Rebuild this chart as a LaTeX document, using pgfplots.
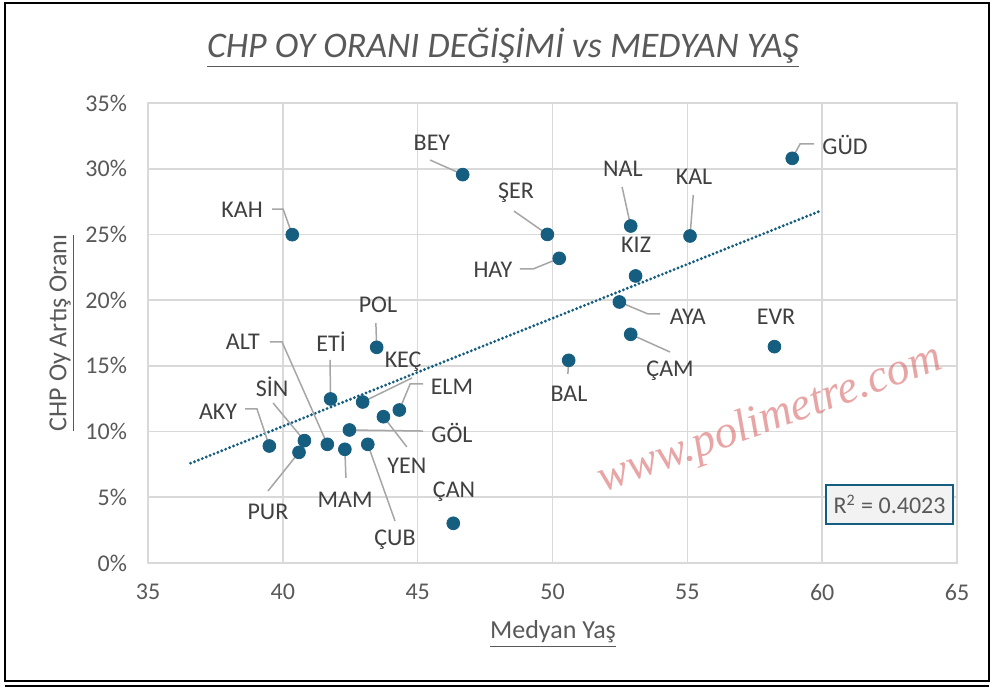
\documentclass[border=0pt]{standalone}
\usepackage{fontspec}
\setmainfont{Carlito}
\newfontfamily\wmfont{Liberation Serif}
\usepackage{pgfplots}
\pgfplotsset{compat=1.18}
\definecolor{pt}{RGB}{22,94,128}
\definecolor{lbl}{RGB}{64,64,64}
\definecolor{tk}{RGB}{89,89,89}
\definecolor{grd}{RGB}{217,217,217}
\definecolor{ldrc}{RGB}{166,166,166}
\definecolor{wm}{RGB}{214,92,92}
\definecolor{boxbg}{RGB}{242,242,242}
\tikzset{
  lab/.style={font=\fontsize{12}{14}\selectfont, text=lbl, inner sep=0pt},
  ldr/.style={draw=ldrc, line width=0.75pt},
}

\begin{document}
\begin{tikzpicture}[x=1pt,y=1pt]
% page and frame
\fill[white] (-74,-62.5) rectangle (423,281.5);
\draw[black, line width=0.9pt] (-71.5,-59) -- (-71.5,280) -- (420.5,280) -- (420.5,-59) -- cycle;
\draw[black, line width=0.9pt] (-71.5,-61.5) -- (420.5,-61.5);

\begin{axis}[
    at={(0,0)}, anchor=south west,
    scale only axis, width=404.5pt, height=230pt,
    xmin=35, xmax=65, ymin=0, ymax=35,
    xtick={35,40,...,65}, ytick={0,5,...,35},
    grid=major, grid style={grd, line width=0.8pt},
    axis line style={grd, line width=0.8pt},
    major tick length=0pt,
    tick label style={font=\fontsize{12}{14}\selectfont, text=tk},
    /pgf/number format/assume math mode=true,
    xticklabel={\pgfmathprintnumber{\tick}},
    yticklabel={\pgfmathprintnumber{\tick}\%},
    xticklabel style={yshift=-7pt},
    yticklabel style={xshift=-7pt},
    clip=false,
  ]
  % trendline
  \addplot[pt, line width=1.6pt, dash pattern=on 0pt off 2.1pt, line cap=round] coordinates {(36.58,7.59) (59.95,26.8)};

  % leader lines
  \draw[ldr] (axis cs:45.46,30.66) -- (axis cs:46.68,29.55);
  \draw[ldr] (axis cs:39.60,26.93) -- (axis cs:40.01,26.93) -- (axis cs:40.35,24.98);
  \draw[ldr] (axis cs:48.57,26.78) -- (axis cs:49.81,25.0);
  \draw[ldr] (axis cs:48.79,22.37) -- (axis cs:49.28,22.37) -- (axis cs:50.25,23.18);
  \draw[ldr] (axis cs:52.58,28.61) -- (axis cs:52.9,25.64);
  \draw[ldr] (axis cs:55.22,28.0) -- (axis cs:55.1,24.88);
  \draw[ldr] (axis cs:59.70,31.88) -- (axis cs:59.18,31.88) -- (axis cs:58.89,30.79);
  \draw[ldr] (axis cs:52.48,19.86) -- (axis cs:53.54,18.95) -- (axis cs:53.99,18.95);
  \draw[ldr] (axis cs:52.9,17.4) -- (axis cs:54.36,16.05);
  \draw[ldr] (axis cs:50.6,15.42) -- (axis cs:50.57,14.38);
  \draw[ldr] (axis cs:43.45,18.26) -- (axis cs:43.48,16.41);
  \draw[ldr] (axis cs:41.75,15.45) -- (axis cs:41.77,12.48);
  \draw[ldr] (axis cs:42.96,12.25) -- (axis cs:44.79,14.08);
  \draw[ldr] (axis cs:44.32,11.64) -- (axis cs:44.72,13.62) -- (axis cs:45.20,13.62);
  \draw[ldr] (axis cs:42.47,10.12) -- (axis cs:45.20,10.04);
  \draw[ldr] (axis cs:43.73,11.13) -- (axis cs:44.60,8.83);
  \draw[ldr] (axis cs:38.60,11.72) -- (axis cs:39.04,11.72) -- (axis cs:39.5,8.9);
  \draw[ldr] (axis cs:39.64,12.17) -- (axis cs:40.8,9.31);
  \draw[ldr] (axis cs:39.52,16.82) -- (axis cs:39.97,16.82) -- (axis cs:41.65,9.03);
  \draw[ldr] (axis cs:39.45,5.48) -- (axis cs:40.6,8.42);
  \draw[ldr] (axis cs:42.34,6.47) -- (axis cs:42.3,8.65);
  \draw[ldr] (axis cs:44.16,3.20) -- (axis cs:43.15,9.03);

  % points
  \addplot[only marks, mark=*, mark size=3.2pt, mark options={draw=pt, fill=pt}] coordinates {
    (46.67,29.55) (40.35,24.98) (49.81,25.0) (50.25,23.18) (52.9,25.64)
    (55.1,24.88) (58.89,30.79) (53.08,21.84) (52.48,19.86) (52.9,17.4)
    (58.23,16.46) (50.6,15.42) (43.48,16.41) (41.77,12.48) (42.96,12.25)
    (44.32,11.64) (43.73,11.13) (42.47,10.12) (39.5,8.9) (40.8,9.31)
    (40.6,8.42) (41.65,9.03) (42.3,8.65) (43.15,9.03) (46.32,3.02)
  };

  % labels
  \node[lab] at (axis cs:45.53,31.96) {BEY};
  \node[lab] at (axis cs:38.49,26.86) {KAH};
  \node[lab] at (axis cs:48.65,28.15) {ŞER};
  \node[lab] at (axis cs:47.79,22.29) {HAY};
  \node[lab] at (axis cs:52.61,29.98) {NAL};
  \node[lab] at (axis cs:55.25,29.37) {KAL};
  \node[lab] at (axis cs:60.85,31.8) {GÜD};
  \node[lab] at (axis cs:53.10,24.2) {KIZ};
  \node[lab] at (axis cs:55.02,18.72) {AYA};
  \node[lab] at (axis cs:58.29,18.72) {EVR};
  \node[lab] at (axis cs:54.36,14.61) {ÇAM};
  \node[lab] at (axis cs:50.61,12.86) {BAL};
  \node[lab] at (axis cs:43.53,19.63) {POL};
  \node[lab] at (axis cs:41.79,16.82) {ETİ};
  \node[lab] at (axis cs:44.46,15.29) {KEÇ};
  \node[lab] at (axis cs:46.27,13.39) {ELM};
  \node[lab] at (axis cs:46.27,9.89) {GÖL};
  \node[lab] at (axis cs:44.60,7.38) {YEN};
  \node[lab] at (axis cs:37.60,11.49) {AKY};
  \node[lab] at (axis cs:39.60,13.39) {SİN};
  \node[lab] at (axis cs:38.52,16.82) {ALT};
  \node[lab] at (axis cs:39.45,3.88) {PUR};
  \node[lab] at (axis cs:42.31,4.79) {MAM};
  \node[lab] at (axis cs:44.16,1.75) {ÇUB};
  \node[lab] at (axis cs:46.35,5.40) {ÇAN};

  % R^2 box
  \node[draw=pt, fill=boxbg, line width=1pt, minimum width=63.5pt, minimum height=19.5pt,
        text=tk, font=\fontsize{12}{14}\selectfont, inner sep=0pt]
        at (axis cs:62.50,4.45) {R\textsuperscript{2} = 0.4023};

  % watermark
  \node[rotate=20, font=\wmfont\fontsize{23}{25}\selectfont\itshape, text=wm, opacity=0.55]
        at (axis cs:58.07,10.88) {www.polimetre.com};
\end{axis}

% titles
\node[font=\fontsize{18}{20}\selectfont\itshape, text=tk] at (177.5,257.5)
  {\underline{CHP OY ORANI DEĞİŞİMİ vs MEDYAN YAŞ}};
\node[rotate=90, font=\fontsize{13}{15}\selectfont, text=tk] at (-43,115)
  {\underline{CHP Oy Artış Oranı}};
\node[font=\fontsize{13}{15}\selectfont, text=tk] at (202.5,-35.5)
  {\underline{Medyan Yaş}};
\end{tikzpicture}
\end{document}
